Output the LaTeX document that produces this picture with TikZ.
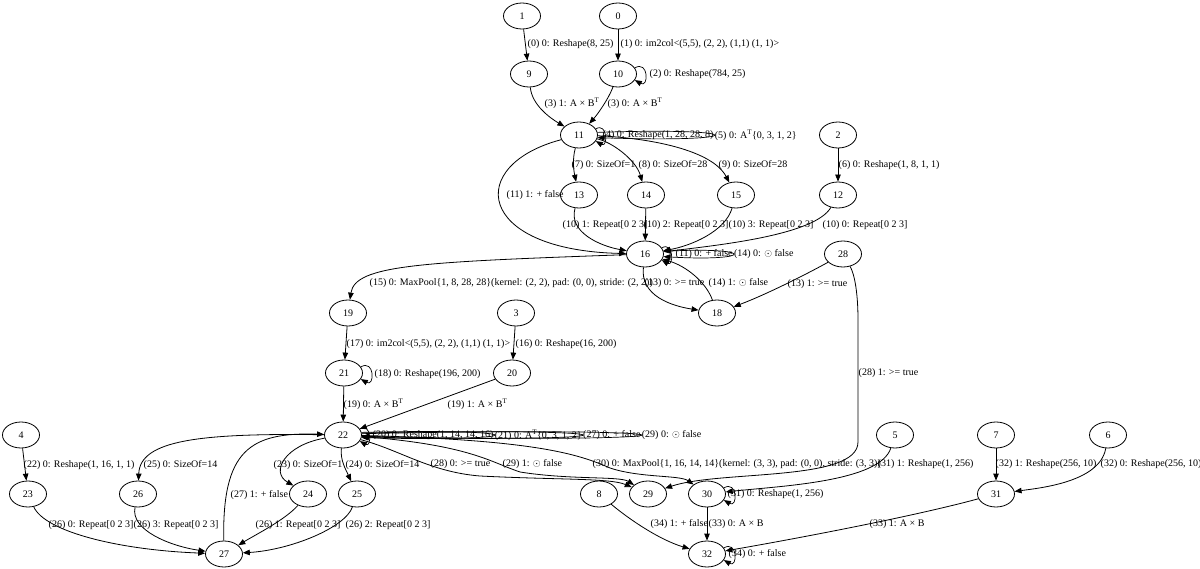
\documentclass[tikz,border=0pt]{standalone}
\usepackage{fontspec}
\setmainfont{Liberation Serif}
\usetikzlibrary{arrows.meta,calc,shapes.geometric}
\begin{document}
\begin{tikzpicture}[x=1pt,y=-1pt,
  every node/.style={font=\fontsize{10}{12}\selectfont},
  nd/.style={draw, ellipse, minimum width=37pt, minimum height=26pt, inner sep=0pt, line width=0.8pt},
  el/.style={anchor=west, inner sep=0.5pt},
  arr/.style={line width=0.8pt, -{Triangle[length=7pt,width=5.5pt]}},
  lp/.style={line width=0.7pt, -{Triangle[length=7pt,width=5.5pt]}},
]
\useasboundingbox (0,0) rectangle (1200,569);
% ---------- nodes ----------
\node[nd] (n1) at (522,16) {1};
\node[nd] (n0) at (618,16) {0};
\node[nd] (n9) at (529,74) {9};
\node[nd] (n10) at (618,74) {10};
\node[nd] (n11) at (579,135) {11};
\node[nd] (n2) at (838,135) {2};
\node[nd] (n12) at (838,195) {12};
\node[nd] (n13) at (579,195) {13};
\node[nd] (n14) at (646,195) {14};
\node[nd] (n15) at (736,195) {15};
\node[nd] (n16) at (645,254) {16};
\node[nd] (n28) at (843,254) {28};
\node[nd] (n18) at (717,313) {18};
\node[nd] (n19) at (348,313) {19};
\node[nd] (n3) at (516,313) {3};
\node[nd] (n21) at (344,373) {21};
\node[nd] (n20) at (512,373) {20};
\node[nd] (n22) at (343,435) {22};
\node[nd] (n4) at (21,435) {4};
\node[nd] (n5) at (895,435) {5};
\node[nd] (n7) at (996,435) {7};
\node[nd] (n6) at (1108,435) {6};
\node[nd] (n23) at (28,494) {23};
\node[nd] (n26) at (138,494) {26};
\node[nd] (n24) at (308,494) {24};
\node[nd] (n25) at (357,494) {25};
\node[nd] (n8) at (599,494) {8};
\node[nd] (n29) at (648,494) {29};
\node[nd] (n30) at (707,494) {30};
\node[nd] (n31) at (996,494) {31};
\node[nd] (n27) at (224,554) {27};
\node[nd] (n32) at (707,554) {32};
% ---------- edge labels ----------
\node[el] (t0) at (527,44) {(0) 0: Reshape(8, 25)};
\node[el] (t1) at (620,44) {(1) 0: im2col<(5,5), (2, 2), (1,1) (1, 1)>};
\node[el] (t2) at (649,74) {(2) 0: Reshape(784, 25)};
\node[el] (t3a) at (544,103) {(3) 1: A × B\textsuperscript{T}};
\node[el] (t3b) at (607,103) {(3) 0: A × B\textsuperscript{T}};
\node[el] (l4) at (602,135) {(4) 0: Reshape(1, 28, 28, 8)};
\node[el] (l5) at (l4.east) {(5) 0: A\textsuperscript{T}\{0, 3, 1, 2\}};
\node[el] (t6) at (838,165) {(6) 0: Reshape(1, 8, 1, 1)};
\node[el] (t7) at (571,165) {(7) 0: SizeOf=1};
\node[el] (t8) at (638,165) {(8) 0: SizeOf=28};
\node[el] (t9) at (718,165) {(9) 0: SizeOf=28};
\node[el] (t11b) at (506,195) {(11) 1: + false};
\node[el] (t10a) at (562,225) {(10) 1: Repeat[0 2 3]};
\node[el] (t10b) at (643,225) {(10) 2: Repeat[0 2 3]};
\node[el] (t10c) at (728,225) {(10) 3: Repeat[0 2 3]};
\node[el] (t10d) at (822,225) {(10) 0: Repeat[0 2 3]};
\node[el] (l11) at (675,254) {(11) 0: + false};
\node[el] (l14) at (l11.east) {(14) 0: $\odot$ false};
\node[el] (t15) at (369,283) {(15) 0: MaxPool\{1, 8, 28, 28\}(kernel: (2, 2), pad: (0, 0), stride: (2, 2))};
\node[el] (t13a) at (644,283) {(13) 0: >= true};
\node[el] (t14b) at (708,283) {(14) 1: $\odot$ false};
\node[el] (t13b) at (787,284) {(13) 1: >= true};
\node[el] (t28b) at (858,373) {(28) 1: >= true};
\node[el] (t17) at (346,344) {(17) 0: im2col<(5,5), (2, 2), (1,1) (1, 1)>};
\node[el] (t16) at (515,344) {(16) 0: Reshape(16, 200)};
\node[el] (t18) at (374,374) {(18) 0: Reshape(196, 200)};
\node[el] (t19a) at (343,404) {(19) 0: A × B\textsuperscript{T}};
\node[el] (t19b) at (447,404) {(19) 1: A × B\textsuperscript{T}};
\node[el] (l20) at (372,435) {(20) 0: Reshape(1, 14, 14, 16)};
\node[el] (l21) at (l20.east) {(21) 0: A\textsuperscript{T}\{0, 3, 1, 2\}};
\node[el] (l27) at (l21.east) {(27) 0: + false};
\node[el] (l29) at (l27.east) {(29) 0: $\odot$ false};
\node[el] (t22) at (23,465) {(22) 0: Reshape(1, 16, 1, 1)};
\node[el] (t25) at (143,465) {(25) 0: SizeOf=14};
\node[el] (t23) at (273,465) {(23) 0: SizeOf=1};
\node[el] (t24) at (345,465) {(24) 0: SizeOf=14};
\node[el] (t28a) at (430,464) {(28) 0: >= true};
\node[el] (t29b) at (502,464) {(29) 1: $\odot$ false};
\node[el] (t30) at (592,464) {(30) 0: MaxPool\{1, 16, 14, 14\}(kernel: (3, 3), pad: (0, 0), stride: (3, 3))};
\node[el] (t31b) at (877,464) {(31) 1: Reshape(1, 256)};
\node[el] (t32b) at (995,464) {(32) 1: Reshape(256, 10)};
\node[el] (t32a) at (1100,464) {(32) 0: Reshape(256, 10)};
\node[el] (t27b) at (230,495) {(27) 1: + false};
\node[el] (t31a) at (727,494) {(31) 0: Reshape(1, 256)};
\node[el] (t26a) at (48,525) {(26) 0: Repeat[0 2 3]};
\node[el] (t26d) at (133,525) {(26) 3: Repeat[0 2 3]};
\node[el] (t26b) at (255,525) {(26) 1: Repeat[0 2 3]};
\node[el] (t26c) at (345,525) {(26) 2: Repeat[0 2 3]};
\node[el] (t34b) at (650,524) {(34) 1: + false};
\node[el] (t33a) at (708,524) {(33) 0: A × B};
\node[el] (t33b) at (869,524) {(33) 1: A × B};
\node[el] (t34a) at (728,554) {(34) 0: + false};
% ---------- edges ----------
\draw[arr] (n1) -- (n9);
\draw[arr] (n0) -- (n10);
\draw[lp] (n10.20) .. controls +(14,-8) and +(14,8) .. (n10.-20);
\draw[arr] (n9) .. controls (532,105) and (550,118) .. (n11);
\draw[arr] (n10) .. controls (608,100) and (597,115) .. (n11);
% loops of 11
\draw[lp] (n11.20) .. controls +(12,-7) and +(12,7) .. (n11.-20);
\draw[lp] (n11.8) .. controls ($(l4.east)!-0.333!(n11.east)+(0,-8)$) and ($(l4.east)!-0.333!(n11.east)+(0,8)$) .. (n11.-8);
\draw[arr] (n11) .. controls (572,160) and (574,172) .. (n13);
\draw[arr] (n11) .. controls (612,142) and (636,160) .. (n14);
\draw[arr] (n11) .. controls (650,138) and (712,150) .. (n15);
\draw[arr] (n11) .. controls (465,165) and (475,250) .. (n16);
\draw[arr] (n2) -- (n12);
\draw[arr] (n13) .. controls (568,232) and (600,246) .. (n16);
\draw[arr] (n14) -- (n16);
\draw[arr] (n15) .. controls (725,232) and (690,246) .. (n16);
\draw[arr] (n12) .. controls (815,235) and (720,245) .. (n16);
% loops of 16
\draw[lp] (n16.20) .. controls +(12,-7) and +(12,7) .. (n16.-20);
\draw[lp] (n16.8) .. controls ($(l11.east)!-0.333!(n16.east)+(0,-8)$) and ($(l11.east)!-0.333!(n16.east)+(0,8)$) .. (n16.-8);
\draw[arr] (n16) .. controls (420,262) and (355,265) .. (n19);
\draw[arr] (n16) .. controls (640,296) and (672,306) .. (n18);
\draw[arr] (n18) .. controls (706,282) and (686,266) .. (n16);
\draw[arr] (n28) .. controls (805,275) and (765,295) .. (n18);
\draw[arr] (n28) .. controls (855,275) and (858,295) .. (858,320) -- (858,442)
  .. controls (858,482) and (720,470) .. (n29);
\draw[arr] (n19) -- (n21);
\draw[arr] (n3) -- (n20);
\draw[lp] (n21.20) .. controls +(14,-8) and +(14,8) .. (n21.-20);
\draw[arr] (n21) -- (n22);
\draw[arr] (n20) -- (n22);
% loops of 22
\draw[lp] (n22.20) .. controls +(12,-7) and +(12,7) .. (n22.-20);
\draw[lp] (n22.8) .. controls ($(l20.east)!-0.333!(n22.east)+(0,-7)$) and ($(l20.east)!-0.333!(n22.east)+(0,7)$) .. (n22.-8);
\draw[lp] (n22.6) .. controls ($(l21.east)!-0.333!(n22.east)+(0,-8)$) and ($(l21.east)!-0.333!(n22.east)+(0,8)$) .. (n22.-6);
\draw[lp] (n22.4) .. controls ($(l27.east)!-0.333!(n22.east)+(0,-9)$) and ($(l27.east)!-0.333!(n22.east)+(0,9)$) .. (n22.-4);
\draw[arr] (n4) -- (n23);
\draw[arr] (n22) .. controls (200,433) and (140,440) .. (n26);
\draw[arr] (n22) .. controls (285,445) and (270,472) .. (n24);
\draw[arr] (n22) .. controls (340,460) and (346,470) .. (n25);
\draw[arr] (n27) .. controls (222,450) and (250,432) .. (n22);
\draw[arr] (n23) .. controls (45,532) and (120,550) .. (n27);
\draw[arr] (n26) .. controls (130,530) and (170,546) .. (n27);
\draw[arr] (n24) .. controls (285,520) and (255,535) .. (n27);
\draw[arr] (n25) .. controls (345,528) and (290,550) .. (n27);
\draw[arr] (n22) .. controls (400,450) and (430,472) .. (480,476) .. controls (560,480) and (610,478) .. (n29);
\draw[arr] (n22) .. controls (470,445) and (490,462) .. (520,472) .. controls (570,480) and (620,476) .. (n29);
\draw[arr] (n22) .. controls (540,440) and (580,455) .. (610,468) .. controls (640,478) and (680,475) .. (n30);
\draw[arr] (n5) .. controls (880,482) and (780,486) .. (n30);
\draw[lp] (n30.20) .. controls +(14,-8) and +(14,8) .. (n30.-20);
\draw[arr] (n7) -- (n31);
\draw[arr] (n6) .. controls (1100,482) and (1040,488) .. (n31);
\draw[arr] (n30) -- (n32);
\draw[arr] (n8) .. controls (630,520) and (660,540) .. (n32);
\draw[arr] (n31) .. controls (900,520) and (760,545) .. (n32);
\draw[lp] (n32.20) .. controls +(14,-8) and +(14,8) .. (n32.-20);
\end{tikzpicture}
\end{document}
